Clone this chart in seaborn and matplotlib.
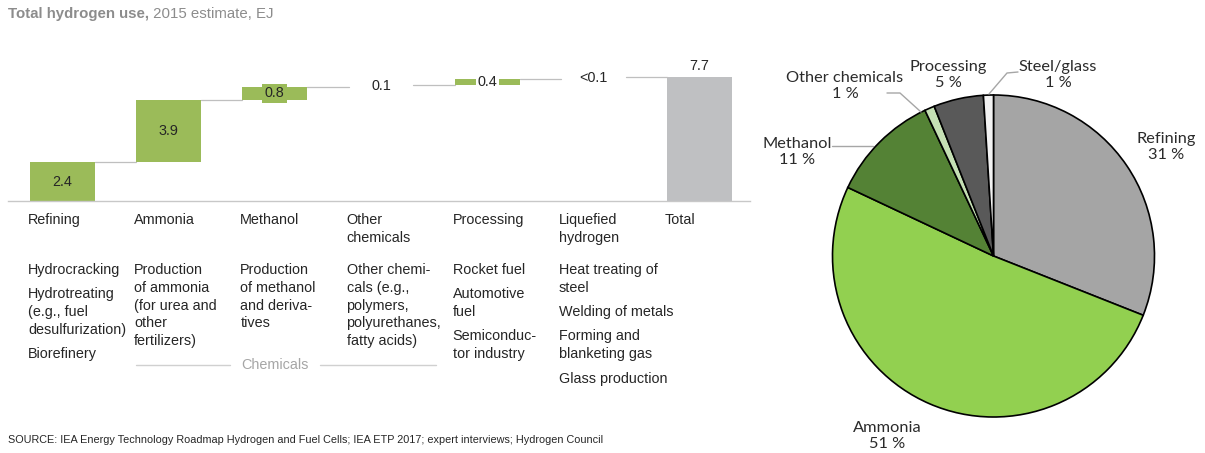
import matplotlib
matplotlib.use("Agg")
import matplotlib.pyplot as plt
import matplotlib.transforms as mtransforms
import seaborn as sns
import pandas as pd

# waterfall data (EJ, 2015 estimate)
categories = ["Refining", "Ammonia", "Methanol", "Other chemicals", "Processing",
              "Liquefied hydrogen", "Total"]
step_values = [2.4, 3.9, 0.8, 0.1, 0.4, 0.1]
total_value = 7.7
value_labels = ["2.4", "3.9", "0.8", "0.1", "0.4", "<0.1", "7.7"]
header_labels = ["Refining", "Ammonia", "Methanol", "Other\nchemicals", "Processing",
                 "Liquefied\nhydrogen", "Total"]
descriptions = [
    ["Hydrocracking", "Hydrotreating\n(e.g., fuel\ndesulfurization)", "Biorefinery"],
    ["Production\nof ammonia\n(for urea and\nother\nfertilizers)"],
    ["Production\nof methanol\nand deriva-\ntives"],
    ["Other chemi-\ncals (e.g.,\npolymers,\npolyurethanes,\nfatty acids)"],
    ["Rocket fuel", "Automotive\nfuel", "Semiconduc-\ntor industry"],
    ["Heat treating of\nsteel", "Welding of metals", "Forming and\nblanketing gas",
     "Glass production"],
    [],
]

# pie data (share of total, %)
pie_labels = ["Refining", "Ammonia", "Methanol", "Other chemicals", "Processing", "Steel/glass"]
pie_shares = [31, 51, 11, 1, 5, 1]
pie_colors = ["#A5A5A5", "#92D050", "#548235", "#C5E0B4", "#595959", "#F2F2F2"]

GREEN = "#9BBB59"
GREY_BAR = "#BFC0C2"
LINE = "#BFBFBF"
TXT = "#262626"

sns.set_theme(style="white")
plt.rcParams["font.family"] = ["Liberation Sans", "DejaVu Sans"]

W, H = 1205, 453
fig = plt.figure(figsize=(W / 100, H / 100), dpi=100)


def fy(py):
    return 1 - py / H


# ---- waterfall ----
x_step = 106.17
x0_px = 62.5
base_px = 201
px_per_ej = 16.1
ymax = 8.0
left_px, right_px = 8, 750
ax = fig.add_axes([left_px / W, fy(base_px), (right_px - left_px) / W, ymax * px_per_ej / H])

heights = step_values + [total_value]
bottoms = []
run = 0
for v in step_values:
    bottoms.append(run)
    run += v
bottoms.append(0)
tops = [b + h for b, h in zip(bottoms, heights)]
bar_colors = [GREEN, GREEN, GREEN, "white", GREEN, "white", GREY_BAR]

df = pd.DataFrame({"use": categories, "value": heights})
bw = 0.612
sns.barplot(data=df, x="use", y="value", hue="use", palette=bar_colors, width=bw,
            saturation=1, legend=False, linewidth=0, ax=ax)
for patch, b in zip(ax.patches, bottoms):
    patch.set_y(b)

for i in range(len(step_values)):
    ax.plot([i + bw / 2, i + 1 - bw / 2], [tops[i], tops[i]], color=LINE, lw=0.9,
            zorder=1)

for i, lab in enumerate(value_labels):
    mid = bottoms[i] + heights[i] / 2
    if i == len(value_labels) - 1:
        ax.annotate(lab, (i, tops[i]), xytext=(0, 3), textcoords="offset points",
                    ha="center", va="bottom", fontsize=10.4, color=TXT)
    elif i == 2:
        ax.text(i, mid, lab, ha="center", va="center", fontsize=10.4, color=TXT,
                bbox=dict(boxstyle="square,pad=0.18", fc=GREEN, ec="none"))
    elif i == 4:
        ax.text(i, mid, lab, ha="center", va="center", fontsize=10.4, color=TXT,
                bbox=dict(boxstyle="square,pad=0.12", fc="white", ec="none"))
    else:
        ax.text(i, mid, lab, ha="center", va="center", fontsize=10.4, color=TXT)

ax.set_xlim((left_px - x0_px) / x_step, (right_px - x0_px) / x_step)
ax.set_ylim(0, ymax)
ax.set_xticks([])
ax.set_yticks([])
ax.set_xlabel("")
ax.set_ylabel("")
for s in ["top", "left", "right"]:
    ax.spines[s].set_visible(False)
ax.spines["bottom"].set_color("#C8C8C8")
ax.spines["bottom"].set_linewidth(1.0)

# text columns below the bars
tr = mtransforms.blended_transform_factory(ax.transData, fig.transFigure)
line_h = 17.8
para_gap = 6.5
for i, (head, paras) in enumerate(zip(header_labels, descriptions)):
    xl = i - 0.325
    for k, line in enumerate(head.split("\n")):
        ax.text(xl, fy(220 + k * line_h), line, transform=tr, ha="left", va="center",
                fontsize=10.4, color=TXT)
    y = 270
    for para in paras:
        for line in para.split("\n"):
            ax.text(xl, fy(y), line, transform=tr, ha="left", va="center",
                    fontsize=10.4, color=TXT)
            y += line_h
        y += para_gap

# "Chemicals" bracket
yb = fy(365)
ax.plot([1 - 0.31, 1.58], [yb, yb], transform=tr, color="#D0D0D0", lw=1, clip_on=False)
ax.plot([2.43, 3.52], [yb, yb], transform=tr, color="#D0D0D0", lw=1, clip_on=False)
ax.text(2.005, yb, "Chemicals", transform=tr, ha="center", va="center", fontsize=10.4,
        color="#A6A6A6")

# title and source
t1 = fig.text(8 / W, fy(14), "Total hydrogen use,", fontsize=10.8, fontweight="bold",
              color="#8C8C8C", ha="left", va="center")
ax.annotate(" 2015 estimate, EJ", xy=(1, 0.5), xycoords=t1, ha="left", va="center",
            fontsize=10.8, color="#8C8C8C", annotation_clip=False)
fig.text(8 / W, fy(440), "SOURCE: IEA Energy Technology Roadmap Hydrogen and Fuel Cells; "
         "IEA ETP 2017; expert interviews; Hydrogen Council", fontsize=7.8, color=TXT,
         ha="left", va="center")

# ---- pie ----
PCX, PCY, PR = 993.5, 256, 161
pax = fig.add_axes([(PCX - PR) / W, (H - PCY - PR) / H, 2 * PR / W, 2 * PR / H])
pax.pie(pie_shares, colors=pie_colors, startangle=90, counterclock=False, radius=1,
        wedgeprops=dict(edgecolor="black", linewidth=1.2))
pax.set_xlim(-1, 1)
pax.set_ylim(-1, 1)
pax.set_axis_off()


def pd2(px, py):
    return (px - PCX) / PR, (PCY - py) / PR


label_pos = [(1166, 147), (887, 436), (797, 152), (845, 86), (948, 75), (1058, 75)]
for name, share, (px, py) in zip(pie_labels, pie_shares, label_pos):
    x, y = pd2(px, py)
    pax.text(x, y, f"{name}\n{share} %", ha="center", va="center", fontsize=11.8,
             family=["Lato", "DejaVu Sans"], color="#2B2B2B", linespacing=1.1,
             clip_on=False)

leaders = [
    [(832, 146), (873, 146)],
    [(887, 93), (900, 93), (921, 112)],
    [(1018, 72), (1007, 73), (989, 94)],
]
for pts in leaders:
    xs, ys = zip(*[pd2(px, py) for px, py in pts])
    pax.plot(xs, ys, color="#A6A6A6", lw=1, clip_on=False)

fig.savefig("out.png", dpi=100)
